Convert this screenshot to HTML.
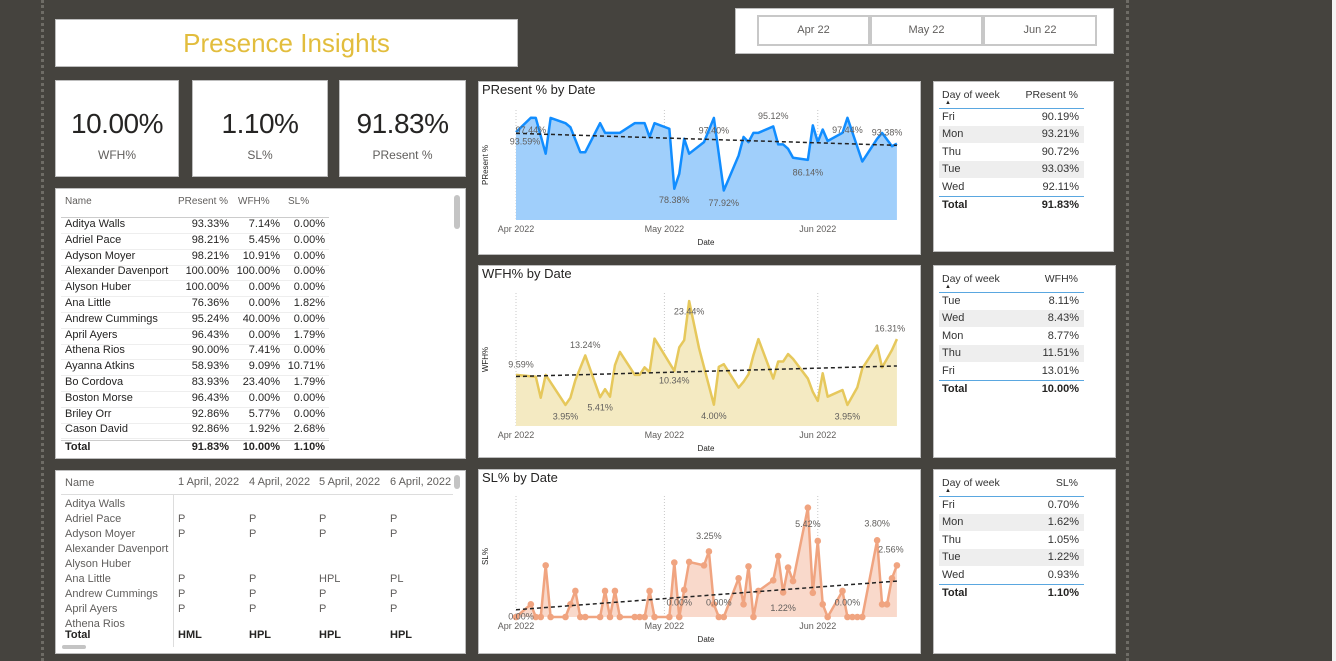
<!DOCTYPE html>
<html><head><meta charset="utf-8">
<style>
body{margin:0;width:1336px;height:661px;background:#45433e;overflow:hidden;font-family:"Liberation Sans",sans-serif;position:relative;color:#252423}
.box{position:absolute;background:#fff;border:1px solid #bdbdbd;box-sizing:border-box}
.dot{position:absolute;top:0;height:661px;border-left:3px dotted #6e6c66}
.kv{position:absolute;left:0;right:0;text-align:center;font-size:28px;top:27px;color:#252423;letter-spacing:-0.5px}
.kl{position:absolute;left:0;right:0;text-align:center;font-size:12px;top:67px;color:#605e5c}
.btn{position:absolute;top:6px;height:31px;border:2px solid #c8c8c8;box-sizing:border-box;font-size:11px;color:#605e5c;text-align:center;line-height:27px;background:#fff}
.t{position:absolute;font-size:11px;white-space:nowrap}
.r{text-align:right}
</style></head><body>
<div class="dot" style="left:41px"></div>
<div class="dot" style="left:1126px"></div>
<div style="position:absolute;left:1332px;top:0;width:4px;height:661px;background:#f3f3f3"></div>

<div class="box" style="left:55px;top:19px;width:463px;height:48px">
<div style="position:absolute;left:0;right:0;top:8px;text-align:center;font-size:26px;color:#e2bd3d">Presence Insights</div></div>

<div class="box" style="left:735px;top:8px;width:379px;height:46px">
<div class="btn" style="left:21px;width:113px">Apr 22</div>
<div class="btn" style="left:134px;width:113px">May 22</div>
<div class="btn" style="left:247px;width:114px">Jun 22</div></div>

<div class="box" style="left:55px;top:80px;width:124px;height:97px"><div class="kv">10.00%</div><div class="kl">WFH%</div></div>
<div class="box" style="left:192px;top:80px;width:136px;height:97px"><div class="kv">1.10%</div><div class="kl">SL%</div></div>
<div class="box" style="left:339px;top:80px;width:127px;height:97px"><div class="kv">91.83%</div><div class="kl">PResent %</div></div>

<div class="box" style="left:55px;top:188px;width:411px;height:271px" id="emp"></div>
<div class="box" style="left:55px;top:470px;width:411px;height:184px" id="mat"></div>

<div class="box" style="left:478px;top:81px;width:443px;height:174px"></div>
<div class="box" style="left:478px;top:265px;width:443px;height:193px"></div>
<div class="box" style="left:478px;top:469px;width:443px;height:185px"></div>

<div class="box" style="left:933px;top:81px;width:181px;height:171px" id="d1"></div>
<div class="box" style="left:933px;top:265px;width:183px;height:193px" id="d2"></div>
<div class="box" style="left:933px;top:469px;width:183px;height:185px" id="d3"></div>

<svg id="charts" width="1336" height="661" style="position:absolute;left:0;top:0" font-family="Liberation Sans, sans-serif"></svg>

<script>
// ---------- chart data ----------
const presDays=[0,3,4,6,7,10,11,13,14,17,18,21,24,26,27,28,31,32,33,34,35,38,40,42,45,46,47,48,49,52,53,54,55,56,59,60,61,62,63,66,67,70,73,74,76,77];
const presVals=[93.59,97.44,97.4,87.8,97.4,96.0,94.9,88.2,88.2,96.0,93.4,93.4,96.0,96.0,92.3,96.0,94.5,78.38,82.4,91.8,87.8,90.9,97.40,77.92,87.3,92.3,90.9,93.4,93.4,95.12,90.3,90.3,89.1,86.7,86.14,95.4,90.9,94.3,91.2,93.4,97.44,85.7,91.8,93.38,89.8,90.5];
const presLabelIdx=[0,1,17,22,23,29,34,40,43];
const wfhDays=[0,4,5,6,10,11,12,14,17,18,19,20,21,24,25,26,27,28,32,33,34,35,37,40,41,42,45,46,47,48,49,52,53,54,55,56,59,60,61,62,63,66,67,69,70,73,74,76,77];
const wfhVals=[9.59,9.25,5.3,9.6,3.95,5.3,8.6,13.24,5.41,6.9,5.5,11.4,13.9,9.6,9.6,11,10.1,16.4,10.34,14.75,16.1,23.44,14.6,4.00,11.1,11.6,7.2,8.3,9.7,13.3,16.3,8.9,12.1,12.1,13.5,12.6,8.9,6.4,4.7,9.9,5.5,6.75,3.95,7.25,10.8,15.1,11,14.25,16.31];
const wfhLabelIdx=[0,4,7,8,18,21,23,42,48];
const slDays=[0,3,4,5,6,7,10,11,12,13,14,17,18,19,20,21,24,25,26,27,28,31,32,33,34,35,38,39,40,41,42,45,46,47,48,49,52,53,54,55,56,59,60,61,62,63,66,67,68,69,70,73,74,75,76,77];
const slVals=[0,0.63,0,0,2.56,0,0,0.63,1.29,0,0,0,1.29,0,1.29,0,0,0,0,1.29,0,0,2.7,0,1.34,2.73,2.56,3.25,0.63,0,0,1.92,0.63,2.51,0,1.29,1.82,3.02,1.22,2.45,1.78,5.42,1.2,3.77,0.63,0,1.29,0,0,0,0,3.8,0.63,0.63,1.92,2.56];
const slLabelIdx=[0,23,27,29,38,41,47,51,55];
const monthTicks=["Apr 2022","May 2022","Jun 2022"];
const monthTickDays=[0,30,61];

const NS="http://www.w3.org/2000/svg";
const svg=document.getElementById('charts');
function mk(tag,attrs,parent){const e=document.createElementNS(NS,tag);for(const k in attrs)e.setAttribute(k,attrs[k]);(parent||svg).appendChild(e);return e;}
const xScale=d=>516+d*4.947;

function chart(cfg){
  const g=mk('g',{});
  
  
  const y=v=>cfg.base-(v-cfg.min)*cfg.ppu;
  const t=mk('text',{x:482,y:cfg.titleY,'font-size':13,fill:'#252423'},g);t.textContent=cfg.title;
  
  
  monthTickDays.forEach((d,i)=>{
    const gl=mk('line',{x1:xScale(d),x2:xScale(d),y1:cfg.gridTop,y2:cfg.base,stroke:'#c8c8c8','stroke-dasharray':'1,2'},g);
    
    
    const tl=mk('text',{x:xScale(d),y:cfg.base+12,'font-size':9,fill:'#605e5c','text-anchor':'middle'},g);tl.textContent=monthTicks[i];
    
    
  });
  const xt=mk('text',{x:706,y:cfg.base+25,'font-size':8,fill:'#252423','text-anchor':'middle'},g);xt.textContent='Date';
  
  
  const yc=(cfg.gridTop+cfg.base)/2;
  const yt=mk('text',{x:488,y:yc,'font-size':8,fill:'#252423','text-anchor':'middle',transform:`rotate(-90 488 ${yc})`},g);yt.textContent=cfg.ytitle;
  
  
  const pts=cfg.days.map((d,i)=>[xScale(d),y(cfg.vals[i])]);
  const area=mk('path',{d:'M'+pts[0][0]+','+cfg.base+' L'+pts.map(p=>p.join(',')).join(' L')+' L'+pts[pts.length-1][0]+','+cfg.base+'Z',fill:cfg.fill},g);
  
  
  const line=mk('polyline',{points:pts.map(p=>p.join(',')).join(' '),fill:'none',stroke:cfg.color,'stroke-width':cfg.lw,'stroke-linejoin':'round'},g);
  
  
  if(cfg.markers){pts.forEach(p=>{const c=mk('circle',{cx:p[0],cy:p[1],r:3.3,fill:cfg.color},g);
    
    });}
  // trend line (least squares)
  const n=cfg.days.length,mx=cfg.days.reduce((a,b)=>a+b)/n,my=cfg.vals.reduce((a,b)=>a+b)/n;
  let sxy=0,sxx=0;cfg.days.forEach((d,i)=>{sxy+=(d-mx)*(cfg.vals[i]-my);sxx+=(d-mx)*(d-mx);});
  const b=sxy/sxx,a=my-b*mx,d0=cfg.days[0],d1=cfg.days[n-1];
  const tr=mk('line',{x1:xScale(d0),y1:y(a+b*d0),x2:xScale(d1),y2:y(a+b*d1),stroke:'#222','stroke-width':1.5,'stroke-dasharray':'4,3'},g);
  
  
  cfg.labels.forEach((idx,k)=>{
    const o=cfg.off[k];
    const lt=mk('text',{x:pts[idx][0]+o[0],y:pts[idx][1]+o[1],'font-size':9,fill:'#605e5c','text-anchor':'middle','dominant-baseline':'middle'},g);
    lt.textContent=cfg.vals[idx].toFixed(2)+'%';
    
    
  });
}
chart({name:'present-chart',title:'PResent % by Date',titleY:94,ytitle:'PResent %',days:presDays,vals:presVals,min:70,ppu:3.725,base:220,gridTop:110,color:'#118dff',fill:'#a0cffb',lw:2.5,markers:false,labels:presLabelIdx,
  off:[[9,10],[0,13],[0,12],[0,13],[0,13],[0,-10],[0,13],[0,13],[5,0]]});
chart({name:'wfh-chart',title:'WFH% by Date',titleY:278,ytitle:'WFH%',days:wfhDays,vals:wfhVals,min:0,ppu:5.33,base:426,gridTop:293,color:'#e6c85c',fill:'#f4eac2',lw:2.5,markers:false,labels:wfhLabelIdx,
  off:[[5,-10],[0,12],[0,-10],[0,11],[0,10],[0,11],[0,12],[0,12],[-7,-10]]});
chart({name:'sl-chart',title:'SL% by Date',titleY:482,ytitle:'SL%',days:slDays,vals:slVals,min:0,ppu:20.17,base:617,gridTop:496,color:'#f0a480',fill:'#f9d9cb',lw:2.5,markers:true,labels:slLabelIdx,
  off:[[5,0],[0,-14],[0,-15],[0,-14],[0,16],[0,17],[0,-14],[0,-16],[-6,-15]]});

// ---------- tables ----------
const empNames=["Aditya Walls","Adriel Pace","Adyson Moyer","Alexander Davenport","Alyson Huber","Ana Little","Andrew Cummings","April Ayers","Athena Rios","Ayanna Atkins","Bo Cordova","Boston Morse","Briley Orr","Cason David"];
const empPres=["93.33%","98.21%","98.21%","100.00%","100.00%","76.36%","95.24%","96.43%","90.00%","58.93%","83.93%","96.43%","92.86%","92.86%"];
const empWfh=["7.14%","5.45%","10.91%","100.00%","0.00%","0.00%","40.00%","0.00%","7.41%","9.09%","23.40%","0.00%","5.77%","1.92%"];
const empSl=["0.00%","0.00%","0.00%","0.00%","0.00%","1.82%","0.00%","1.79%","0.00%","10.71%","1.79%","0.00%","0.00%","2.68%"];
function txt(p,s,l,t,w,cls,name,extra){const e=document.createElement('div');e.className='t '+(cls||'');e.style.left=l+'px';e.style.top=t+'px';if(w)e.style.width=w+'px';if(extra)e.style.cssText+=extra;e.textContent=s;
  
  
  p.appendChild(e);return e;}
const emp=document.getElementById('emp');
[["Name",9,null],["PResent %",100,72],["WFH%",172,52],["SL%",216,52]].forEach(h=>txt(emp,h[0],h[1],7,h[2],h[2]?'':'','column-header','color:#605e5c;font-size:10px'));
emp.children[1].style.left='122px';emp.children[2].style.left='182px';emp.children[3].style.left='232px';
let ln=document.createElement('div');ln.style.cssText='position:absolute;left:5px;top:28px;width:268px;border-top:1px solid #ccc';


emp.appendChild(ln);
empNames.forEach((n,i)=>{const y=29+i*15.8;
  txt(emp,n,9,y,null,'','employee-name');
  txt(emp,empPres[i],100,y,73,'r','present-cell');
  txt(emp,empWfh[i],173,y,51,'r','wfh-cell');
  txt(emp,empSl[i],224,y,45,'r','sl-cell');
  const s=document.createElement('div');s.style.cssText=`position:absolute;left:5px;top:${y+15}px;width:268px;border-top:1px solid #eee`;
  
  
  emp.appendChild(s);});
ln=document.createElement('div');ln.style.cssText='position:absolute;left:5px;top:251px;width:268px;border-top:1px solid #ccc';


emp.appendChild(ln);
txt(emp,"Total",9,252,null,'','total-label','font-weight:bold');
txt(emp,"91.83%",100,252,73,'r','total-present','font-weight:bold');
txt(emp,"10.00%",173,252,51,'r','total-wfh','font-weight:bold');
txt(emp,"1.10%",224,252,45,'r','total-sl','font-weight:bold');
const sb=document.createElement('div');sb.style.cssText='position:absolute;left:398px;top:6px;width:6px;height:34px;border-radius:3px;background:#c4c4c4';


emp.appendChild(sb);

// matrix
const matNames=["Aditya Walls","Adriel Pace","Adyson Moyer","Alexander Davenport","Alyson Huber","Ana Little","Andrew Cummings","April Ayers","Athena Rios"];
const matCols=["1 April, 2022","4 April, 2022","5 April, 2022","6 April, 2022"];
const matCells=[["","","",""],["P","P","P","P"],["P","P","P","P"],["","","",""],["","","",""],["P","P","HPL","PL"],["P","P","P","P"],["P","P","P","P"],["","","",""]];
const matTotals=["HML","HPL","HPL","HPL"];
const mat=document.getElementById('mat');
const colX=[122,193,263,334];
txt(mat,"Name",9,6,null,'','matrix-name-header','color:#605e5c');
matCols.forEach((c,j)=>txt(mat,c,colX[j],5,null,'','matrix-date-header','color:#605e5c'));
ln=document.createElement('div');ln.style.cssText='position:absolute;left:5px;top:23px;width:392px;border-top:1px solid #ddd';


mat.appendChild(ln);
ln=document.createElement('div');ln.style.cssText='position:absolute;left:117px;top:24px;height:152px;border-left:1px solid #ddd';


mat.appendChild(ln);
const clip=document.createElement('div');clip.style.cssText='position:absolute;left:0;top:0;width:409px;height:156px;overflow:hidden';


mat.appendChild(clip);
matNames.forEach((n,i)=>{const y=27+i*15;txt(clip,n,9,y,null,'','matrix-row-name','color:#605e5c');
  matCells[i].forEach((c,j)=>{if(c)txt(clip,c,colX[j],y,null,'','matrix-cell','color:#605e5c');});});
txt(mat,"Total",9,158,null,'','matrix-total-label','font-weight:bold');
matTotals.forEach((c,j)=>txt(mat,c,colX[j],158,null,'','matrix-total-cell','font-weight:bold'));
let hb=document.createElement('div');hb.style.cssText='position:absolute;left:6px;top:174px;width:24px;height:4px;border-radius:2px;background:#c4c4c4';


mat.appendChild(hb);
hb=document.createElement('div');hb.style.cssText='position:absolute;left:398px;top:4px;width:6px;height:14px;border-radius:3px;background:#c4c4c4';


mat.appendChild(hb);

// day of week tables
const dowPresDays=["Fri","Mon","Thu","Tue","Wed"],dowPresVals=["90.19%","93.21%","90.72%","93.03%","92.11%"];
const dowWfhDays=["Tue","Wed","Mon","Thu","Fri"],dowWfhVals=["8.11%","8.43%","8.77%","11.51%","13.01%"];
const dowSlDays=["Fri","Mon","Thu","Tue","Wed"],dowSlVals=["0.70%","1.62%","1.05%","1.22%","0.93%"];
function dow(id,hdr,days,vals,total,pfx){
  const p=document.getElementById(id);
  txt(p,"Day of week",8,7,null,'',pfx+'-dow-header','font-size:10.5px;color:#333');
  txt(p,hdr,75,7,69,'r',pfx+'-value-header','font-size:10.5px;color:#333');
  txt(p,"▲",11,18,null,'',pfx+'-sort-icon','font-size:6px');
  let l=document.createElement('div');l.style.cssText='position:absolute;left:5px;top:26px;width:145px;border-top:1px solid #5aa7e0';
  
  
  p.appendChild(l);
  days.forEach((d,i)=>{const y=27+i*17.4;
    if(i%2==1){const b=document.createElement('div');b.style.cssText=`position:absolute;left:5px;top:${y}px;width:145px;height:17px;background:#eeeeee`;
      
      
      p.appendChild(b);}
    txt(p,d,8,y+2,null,'',pfx+'-day','font-size:11px;color:#333');
    txt(p,vals[i],75,y+2,70,'r',pfx+'-value','font-size:11px;color:#333');});
  l=document.createElement('div');l.style.cssText='position:absolute;left:5px;top:114px;width:145px;border-top:1px solid #5aa7e0';
  
  
  p.appendChild(l);
  txt(p,"Total",8,117,null,'',pfx+'-total-label','font-weight:bold');
  txt(p,total,75,117,70,'r',pfx+'-total-value','font-weight:bold');
}
dow('d1','PResent %',dowPresDays,dowPresVals,'91.83%','present');
dow('d2','WFH%',dowWfhDays,dowWfhVals,'10.00%','wfh');
dow('d3','SL%',dowSlDays,dowSlVals,'1.10%','sl');
</script>
</body></html>
